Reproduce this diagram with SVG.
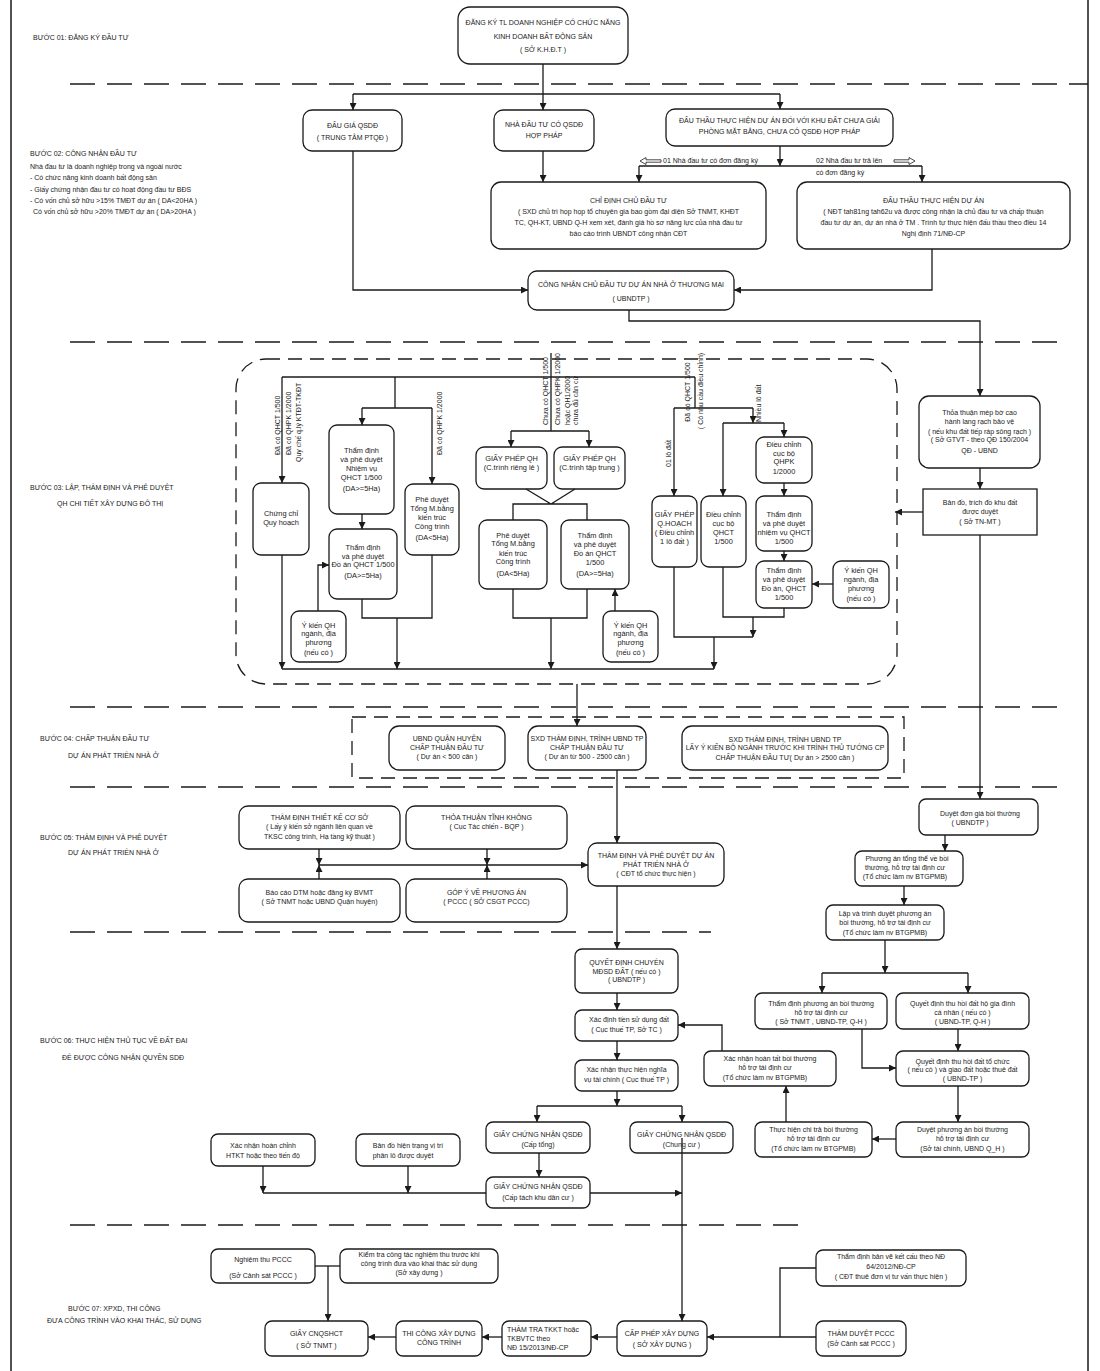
<svg xmlns="http://www.w3.org/2000/svg" width="1100" height="1371" viewBox="0 0 1100 1371">
<defs>
<marker id="ar" viewBox="0 0 10 10" refX="10" refY="5" markerWidth="7" markerHeight="7" markerUnits="userSpaceOnUse" orient="auto"><path d="M0,0L10,5L0,10z" fill="#1a1a1a"/></marker>
</defs>
<style>
text{font-family:"Liberation Sans",Arial,sans-serif;font-size:7px;fill:#1a1a1a}
.c{text-anchor:middle}
.m{font-size:7.4px}
rect.b{fill:#fff;stroke:#1a1a1a;stroke-width:1.3}
.k path{fill:none;stroke:#1a1a1a;stroke-width:1.3}
.k path.a{marker-end:url(#ar)}
.d{stroke:#1a1a1a;stroke-width:1.6;stroke-dasharray:25 12;fill:none}
.dr{stroke:#1a1a1a;stroke-width:1.3;stroke-dasharray:14 8;fill:none}
.h{fill:#fff;stroke:#1a1a1a;stroke-width:0.8}
</style>
<rect width="1100" height="1371" fill="#fff"/>
<g id="frame">
<path d="M11,0V1371M1088,0V1371" stroke="#1a1a1a" stroke-width="1.5" fill="none"/>
<path class="d" d="M70,84H1088"/>
<path class="d" d="M70,342H1064"/>
<path class="d" d="M70,707H1064"/>
<path class="d" d="M70,787H1064"/>
<path class="d" d="M70,932H711"/>
<path class="d" d="M70,1225H810"/>
<rect class="dr" x="236" y="359" width="661" height="325" rx="30"/>
<rect class="dr" x="352" y="717" width="552" height="61"/>
</g>
<g id="labels">
<text x="33" y="40">BƯỚC 01: ĐĂNG KÝ ĐẦU TƯ</text>
<text x="30" y="155.5">BƯỚC 02: CÔNG NHẬN ĐẦU TƯ</text>
<text x="30" y="168.5">Nhà đầu tư là doanh nghiệp trong và ngoài nước</text>
<text x="30" y="179.5">- Có chức năng kinh doanh bất động sản</text>
<text x="30" y="191.5">- Giấy chứng nhận đầu tư có hoạt động đầu tư BĐS</text>
<text x="30" y="202.5">- Có vốn chủ sở hữu &gt;15% TMĐT dự án ( DA&lt;20HA )</text>
<text x="33" y="213.5">Có vốn chủ sở hữu &gt;20% TMĐT dự án ( DA&gt;20HA )</text>
<text x="30" y="489.5">BƯỚC 03: LẬP, THẨM ĐỊNH VÀ PHÊ DUYỆT</text>
<text x="57" y="505.5">QH CHI TIẾT XÂY DỰNG ĐÔ THỊ</text>
<text x="40" y="740.5">BƯỚC 04: CHẤP THUẬN ĐẦU TƯ</text>
<text x="68" y="757.5">DỰ ÁN PHÁT TRIỂN NHÀ Ở</text>
<text x="40" y="839.5">BƯỚC 05: THẨM ĐỊNH VÀ PHÊ DUYỆT</text>
<text x="68" y="854.5">DỰ ÁN PHÁT TRIỂN NHÀ Ở</text>
<text x="40" y="1042.5">BƯỚC 06: THỰC HIỆN THỦ TỤC VỀ ĐẤT ĐAI</text>
<text x="62" y="1059.5">ĐỂ ĐƯỢC CÔNG NHẬN QUYỀN SDĐ</text>
<text x="68" y="1310.5">BƯỚC 07: XPXD, THI CÔNG</text>
<text x="47" y="1322.5">ĐƯA CÔNG TRÌNH VÀO KHAI THÁC, SỬ DỤNG</text>
</g>

<g id="n-dangky"><rect class="b" x="458" y="7" width="170" height="57" rx="12"/>
<text class="c" x="543" y="25">ĐĂNG KÝ TL DOANH NGHIỆP CÓ CHỨC NĂNG</text><text class="c" x="543" y="38.5">KINH DOANH BẤT ĐỘNG SẢN</text><text class="c" x="543" y="52">( SỞ K.H.Đ.T )</text></g>
<g id="n-daugia"><rect class="b" x="303" y="110" width="99" height="41" rx="9"/>
<text class="c" x="352.5" y="127.5">ĐẤU GIÁ QSDĐ</text><text class="c" x="352.5" y="139.5">( TRUNG TÂM PTQĐ )</text></g>
<g id="n-nhadautu"><rect class="b" x="494" y="110" width="100" height="41" rx="9"/>
<text class="c" x="544" y="126.5">NHÀ ĐẦU TƯ CÓ QSDĐ</text><text class="c" x="544" y="137.5">HỢP PHÁP</text></g>
<g id="n-dauthau"><rect class="b" x="666" y="109" width="227" height="37" rx="9"/>
<text class="c" x="779.5" y="122.5">ĐẤU THẦU THỰC HIỆN DỰ ÁN ĐỐI VỚI KHU ĐẤT CHƯA GIẢI</text><text class="c" x="779.5" y="133.5">PHÒNG MẶT BẰNG, CHƯA CÓ QSDĐ HỢP PHÁP</text></g>
<g id="n-chidinh"><rect class="b" x="491" y="182" width="275" height="67" rx="10"/>
<text class="c" x="628.5" y="203">CHỈ ĐỊNH CHỦ ĐẦU TƯ</text><text class="c" x="628.5" y="214">( SXD chủ trì họp họp tổ chuyên gia bao gồm đại diện Sở TNMT, KHĐT</text><text class="c" x="628.5" y="225">TC, QH-KT, UBND Q-H xem xét, đánh giá hồ sơ năng lực của nhà đầu tư</text><text class="c" x="628.5" y="236">báo cáo trình UBNDT công nhận  CĐT</text></g>
<g id="n-dauthauth"><rect class="b" x="797" y="182" width="273" height="67" rx="10"/>
<text class="c" x="933.5" y="203">ĐẤU THẦU THỰC HIỆN DỰ ÁN</text><text class="c" x="933.5" y="214">( NĐT tah81ng tah62u và được công nhận là chủ đầu tư và chấp thuận</text><text class="c" x="933.5" y="225">đầu tư dự án, dự án nhà ở TM . Trình tự thực hiện đấu thầu theo điều 14</text><text class="c" x="933.5" y="236">Nghị định 71/NĐ-CP</text></g>
<g id="n-congnhan"><rect class="b" x="528" y="271" width="206" height="39" rx="9"/>
<text class="c" x="631" y="287">CÔNG NHẬN CHỦ ĐẦU TƯ DỰ ÁN NHÀ Ở THƯƠNG MẠI</text><text class="c" x="631" y="301">( UBNDTP )</text></g>

<g id="n-chungchi"><rect class="b" x="253" y="483" width="56" height="72" rx="8"/>
<text class="c m" x="281" y="515.5">Chứng chỉ</text><text class="c m" x="281" y="525">Quy hoạch</text></g>
<g id="n-tdnv1"><rect class="b" x="329" y="425" width="65" height="89" rx="8"/>
<text class="c m" x="361.5" y="452.5">Thẩm định</text><text class="c m" x="361.5" y="461.5">và phê duyệt</text><text class="c m" x="361.5" y="470.5">Nhiệm vụ</text><text class="c m" x="361.5" y="479.5">QHCT 1/500</text><text class="c m" x="361.5" y="490.5">(DA&gt;=5Ha)</text></g>
<g id="n-tdda1"><rect class="b" x="329" y="529" width="68" height="70" rx="8"/>
<text class="c m" x="363" y="549.5">Thẩm định</text><text class="c m" x="363" y="558.5">và phê duyệt</text><text class="c m" x="363" y="567">Đồ án QHCT 1/500</text><text class="c m" x="363" y="578">(DA&gt;=5Ha)</text></g>
<g id="n-ykien1"><rect class="b" x="291" y="611" width="55" height="51" rx="8"/>
<text class="c m" x="318.5" y="627.5">Ý kiến QH</text><text class="c m" x="318.5" y="636">ngành, địa</text><text class="c m" x="318.5" y="644.5">phương</text><text class="c m" x="318.5" y="654.5">(nếu có )</text></g>
<g id="n-pdtmb1"><rect class="b" x="405" y="484" width="54" height="71" rx="8"/>
<text class="c m" x="432" y="501.5">Phê duyệt</text><text class="c m" x="432" y="510.5">Tổng M.bằng</text><text class="c m" x="432" y="519.5">kiến trúc</text><text class="c m" x="432" y="528.5">Công trình</text><text class="c m" x="432" y="539.5">(DA&lt;5Ha)</text></g>
<g id="n-gpqh1"><rect class="b" x="476" y="447" width="71" height="42" rx="8"/>
<text class="c m" x="511.5" y="460.5">GIẤY PHÉP QH</text><text class="c m" x="511.5" y="469.5">(C.trình riêng lẻ )</text></g>
<g id="n-gpqh2"><rect class="b" x="554" y="447" width="71" height="42" rx="8"/>
<text class="c m" x="589.5" y="460.5">GIẤY PHÉP QH</text><text class="c m" x="589.5" y="469.5">(C.trình tập trung )</text></g>
<g id="n-pdtmb2"><rect class="b" x="479" y="520" width="68" height="69" rx="8"/>
<text class="c m" x="513" y="537.5">Phê duyệt</text><text class="c m" x="513" y="545.5">Tổng M.bằng</text><text class="c m" x="513" y="555.5">kiến trúc</text><text class="c m" x="513" y="563.5">Công trình</text><text class="c m" x="513" y="575.5">(DA&lt;5Ha)</text></g>
<g id="n-tdda2"><rect class="b" x="561" y="520" width="68" height="69" rx="8"/>
<text class="c m" x="595" y="537.5">Thẩm định</text><text class="c m" x="595" y="546.5">và phê duyệt</text><text class="c m" x="595" y="555.5">Đồ án  QHCT</text><text class="c m" x="595" y="564.5">1/500</text><text class="c m" x="595" y="575.5">(DA&gt;=5Ha)</text></g>
<g id="n-ykien2"><rect class="b" x="603" y="611" width="55" height="51" rx="8"/>
<text class="c m" x="630.5" y="627.5">Ý kiến QH</text><text class="c m" x="630.5" y="636">ngành, địa</text><text class="c m" x="630.5" y="644.5">phương</text><text class="c m" x="630.5" y="654.5">(nếu có )</text></g>
<g id="n-gpqhdc"><rect class="b" x="652" y="496" width="45" height="71" rx="8"/>
<text class="c m" x="674.5" y="516.5">GIẤY PHÉP</text><text class="c m" x="674.5" y="525.5">Q.HOẠCH</text><text class="c m" x="674.5" y="534.5">( Điều chỉnh</text><text class="c m" x="674.5" y="543.5">1 lô đất )</text></g>
<g id="n-dcqhct"><rect class="b" x="701" y="496" width="45" height="71" rx="8"/>
<text class="c m" x="723.5" y="516.5">Điều chỉnh</text><text class="c m" x="723.5" y="525.5">cục bộ</text><text class="c m" x="723.5" y="534.5">QHCT</text><text class="c m" x="723.5" y="543.5">1/500</text></g>
<g id="n-dcqhpk"><rect class="b" x="756" y="437" width="56" height="46" rx="8"/>
<text class="c m" x="784" y="446.5">Điều chỉnh</text><text class="c m" x="784" y="455.5">cục bộ</text><text class="c m" x="784" y="463.5">QHPK</text><text class="c m" x="784" y="473.5">1/2000</text></g>
<g id="n-tdnv3"><rect class="b" x="756" y="496" width="56" height="55" rx="8"/>
<text class="c m" x="784" y="516.5">Thẩm định</text><text class="c m" x="784" y="525.5">và phê duyệt</text><text class="c m" x="784" y="534.5">nhiệm vụ QHCT</text><text class="c m" x="784" y="543.5">1/500</text></g>
<g id="n-tdda3"><rect class="b" x="756" y="561" width="56" height="47" rx="8"/>
<text class="c m" x="784" y="572.5">Thẩm định</text><text class="c m" x="784" y="581.5">và phê duyệt</text><text class="c m" x="784" y="590.5">Đồ án,  QHCT</text><text class="c m" x="784" y="599.5">1/500</text></g>
<g id="n-ykien3"><rect class="b" x="833" y="561" width="56" height="47" rx="8"/>
<text class="c m" x="861" y="572.5">Ý kiến QH</text><text class="c m" x="861" y="581.5">ngành, địa</text><text class="c m" x="861" y="590.5">phương</text><text class="c m" x="861" y="600.5">(nếu có )</text></g>
<g id="n-thoathuan"><rect class="b" x="919" y="396" width="121" height="72" rx="10"/>
<text class="c" x="979.5" y="414.5">Thỏa thuận mép bờ cao</text><text class="c" x="979.5" y="423.5">hành lang rạch bảo vệ</text><text class="c" x="979.5" y="433.5">( nếu khu đất tiếp ráp sông rạch )</text><text class="c" x="979.5" y="441.5">( Sở GTVT - theo QĐ 150/2004</text><text class="c" x="979.5" y="452.5">QĐ - UBND</text></g>
<g id="n-bando"><rect class="b" x="923" y="489" width="114" height="46"/>
<text class="c" x="980" y="504.5">Bản đồ, trích đồ khu đất</text><text class="c" x="980" y="513.5">được duyệt</text><text class="c" x="980" y="523.5">( Sở TN-MT )</text></g>

<g id="n-ubndqh"><rect class="b" x="389" y="726" width="116" height="44" rx="10"/>
<text class="c" x="447" y="740.5">UBND QUẬN HUYỆN</text><text class="c" x="447" y="749.5">CHẤP THUẬN ĐẦU TƯ</text><text class="c" x="447" y="758.5">( Dự án &lt; 500 căn )</text></g>
<g id="n-sxd1"><rect class="b" x="528" y="726" width="118" height="44" rx="10"/>
<text class="c" x="587" y="740.5">SXD THẨM ĐỊNH, TRÌNH UBND TP</text><text class="c" x="587" y="749.5">CHẤP THUẬN ĐẦU TƯ</text><text class="c" x="587" y="758.5">( Dự án từ 500 - 2500 căn )</text></g>
<g id="n-sxd2"><rect class="b" x="682" y="726" width="206" height="44" rx="10"/>
<text class="c" x="785" y="741.5">SXD THẨM ĐỊNH, TRÌNH UBND TP</text><text class="c" x="785" y="749.5">LẤY Ý KIẾN BỘ NGÀNH TRƯỚC KHI TRÌNH THỦ TƯỚNG CP</text><text class="c" x="785" y="759.5">CHẤP THUẬN ĐẦU TƯ( Dự án &gt; 2500 căn )</text></g>

<g id="n-tdtkcs"><rect class="b" x="239" y="806" width="161" height="43" rx="9"/>
<text class="c" x="319.5" y="819.5">THẨM ĐỊNH THIẾT KẾ CƠ SỞ</text><text class="c" x="319.5" y="828.5">( Lấy ý kiến sở ngành liên quan về</text><text class="c" x="319.5" y="838.5">TKSC công trình, Hạ tầng kỹ thuật )</text></g>
<g id="n-tinhkhong"><rect class="b" x="406" y="806" width="161" height="43" rx="9"/>
<text class="c" x="486.5" y="819.5">THỎA THUẬN TĨNH KHÔNG</text><text class="c" x="486.5" y="828.5">( Cục Tác chiến - BQP )</text></g>
<g id="n-dtm"><rect class="b" x="239" y="879" width="161" height="43" rx="9"/>
<text class="c" x="319.5" y="894.5">Báo cáo DTM hoặc đăng ký BVMT</text><text class="c" x="319.5" y="903.5">( Sở TNMT hoặc UBND Quận huyện)</text></g>
<g id="n-gopy"><rect class="b" x="406" y="879" width="161" height="43" rx="9"/>
<text class="c" x="486.5" y="894.5">GÓP Ý VỀ PHƯƠNG ÁN</text><text class="c" x="486.5" y="903.5">( PCCC ( SỞ CSGT PCCC)</text></g>
<g id="n-tdpdda"><rect class="b" x="588" y="843" width="136" height="43" rx="9"/>
<text class="c" x="656" y="857.5">THẨM ĐỊNH VÀ PHÊ DUYỆT DỰ ÁN</text><text class="c" x="656" y="866.5">PHÁT TRIỂN NHÀ Ở</text><text class="c" x="656" y="875.5">( CĐT tổ chức thực hiện )</text></g>
<g id="n-dongia"><rect class="b" x="919" y="799" width="119" height="36" rx="7"/>
<text class="c" x="980" y="815.5">Duyệt đơn giá bồi thường</text><text class="c" x="970" y="824.5">( UBNDTP )</text></g>
<g id="n-pattongthe"><rect class="b" x="855" y="851" width="108" height="35" rx="7"/>
<text class="c" x="907" y="860.5">Phương án tổng thể về bồi</text><text class="c" x="905" y="869.5">thường, hỗ trợ tái định cư</text><text class="c" x="905" y="878.5">(Tổ chức làm nv BTGPMB)</text></g>
<g id="n-lap"><rect class="b" x="826" y="905" width="118" height="35" rx="7"/>
<text class="c" x="885" y="915.5">Lập và trình duyệt phương án</text><text class="c" x="885" y="925">bồi thường, hỗ trợ tái định cư</text><text class="c" x="885" y="934.5">(Tổ chức làm nv BTGPMB)</text></g>

<g id="n-qdchuyen"><rect class="b" x="575" y="949" width="103" height="44" rx="7"/>
<text class="c" x="626.5" y="964.5">QUYẾT ĐỊNH CHUYỂN</text><text class="c" x="626.5" y="973.5">MĐSD ĐẤT ( nếu có )</text><text class="c" x="626.5" y="981.5">( UBNDTP )</text></g>
<g id="n-tiensd"><rect class="b" x="575" y="1010" width="103" height="31" rx="7"/>
<text class="c" x="629" y="1021.5">Xác định tiền sử dụng đất</text><text class="c" x="626.5" y="1031.5">( Cục thuế TP, Sở TC )</text></g>
<g id="n-nghiavu"><rect class="b" x="575" y="1060" width="103" height="31" rx="7"/>
<text class="c" x="626.5" y="1071.5">Xác nhận thực hiện nghĩa</text><text class="c" x="626.5" y="1081.5">vụ tài chính ( Cục thuế TP )</text></g>
<g id="n-gcntong"><rect class="b" x="486" y="1122" width="104" height="31" rx="7"/>
<text class="c" x="538" y="1136.5">GIẤY CHỨNG NHẬN QSDĐ</text><text class="c" x="538" y="1146.5">(Cấp tổng)</text></g>
<g id="n-gcncc"><rect class="b" x="630" y="1122" width="103" height="31" rx="7"/>
<text class="c" x="681.5" y="1136.5">GIẤY CHỨNG NHẬN QSDĐ</text><text class="c" x="681.5" y="1146.5">(Chung cư )</text></g>
<g id="n-gcntach"><rect class="b" x="486" y="1177" width="104" height="31" rx="7"/>
<text class="c" x="538" y="1188.5">GIẤY CHỨNG NHẬN QSDĐ</text><text class="c" x="538" y="1199.5">(Cấp tách khu dân cư )</text></g>
<g id="n-htkt"><rect class="b" x="211" y="1134" width="104" height="32" rx="7"/>
<text class="c" x="263" y="1147.5">Xác nhận hoàn chỉnh</text><text class="c" x="263" y="1157.5">HTKT hoặc theo tiến độ</text></g>
<g id="n-hientrang"><rect class="b" x="356" y="1134" width="104" height="32" rx="7"/>
<text class="c" x="408" y="1147.5">Bản đồ hiện trạng vị trí</text><text class="c" x="403" y="1157.5">phân lô được duyệt</text></g>
<g id="n-tdpa"><rect class="b" x="755" y="993" width="132" height="36" rx="7"/>
<text class="c" x="821" y="1005.5">Thẩm định phương án bồi thường</text><text class="c" x="821" y="1014.5">hỗ trợ tái định cư</text><text class="c" x="821" y="1023.5">( Sở TNMT , UBND-TP, Q-H )</text></g>
<g id="n-qdho"><rect class="b" x="896" y="993" width="133" height="36" rx="7"/>
<text class="c" x="962.5" y="1005.5">Quyết định thu hồi đất hộ gia đình</text><text class="c" x="962.5" y="1014.5">cá nhân ( nếu có )</text><text class="c" x="962.5" y="1023.5">( UBND-TP, Q-H )</text></g>
<g id="n-qdtochuc"><rect class="b" x="896" y="1051" width="133" height="35" rx="7"/>
<text class="c" x="962.5" y="1063.5">Quyết định thu hồi đất tổ chức</text><text class="c" x="962.5" y="1071.5">( nếu có ) và giao đất hoặc thuê đất</text><text class="c" x="962.5" y="1080.5">( UBND-TP )</text></g>
<g id="n-duyetpa"><rect class="b" x="896" y="1122" width="133" height="35" rx="7"/>
<text class="c" x="962.5" y="1131.5">Duyệt phương án bồi thường</text><text class="c" x="962.5" y="1140.5">hỗ trợ tái định cư</text><text class="c" x="962.5" y="1150.5">(Sở tài chính, UBND Q_H )</text></g>
<g id="n-chitra"><rect class="b" x="755" y="1122" width="117" height="35" rx="7"/>
<text class="c" x="813.5" y="1131.5">Thực hiện chi trả bồi thường</text><text class="c" x="813.5" y="1140.5">hỗ trợ tái định cư</text><text class="c" x="813.5" y="1150.5">(Tổ chức làm nv BTGPMB)</text></g>
<g id="n-hoantat"><rect class="b" x="704" y="1051" width="132" height="35" rx="7"/>
<text class="c" x="770" y="1060.5">Xác nhận hoàn tất bồi thường</text><text class="c" x="765" y="1069.5">hỗ trợ tái định cư</text><text class="c" x="765" y="1079.5">(Tổ chức làm nv BTGPMB)</text></g>

<g id="n-nghiemthu"><rect class="b" x="211" y="1249" width="104" height="34" rx="7"/>
<text class="c" x="263" y="1261.5">Nghiệm thu PCCC</text><text class="c" x="263" y="1277.5">(Sở Cảnh sát PCCC )</text></g>
<g id="n-kiemtra"><rect class="b" x="340" y="1249" width="158" height="34" rx="7"/>
<text class="c" x="419" y="1256.5">Kiểm tra công tác nghiệm thu trước khi</text><text class="c" x="419" y="1265.5">công trình đưa vào khai thác sử dụng</text><text class="c" x="419" y="1274.5">(Sở xây dựng )</text></g>
<g id="n-cnqshct"><rect class="b" x="265" y="1321" width="103" height="35" rx="7"/>
<text class="c" x="316.5" y="1335.5">GIẤY CNQSHCT</text><text class="c" x="316.5" y="1347.5">( SỞ TNMT )</text></g>
<g id="n-thicong"><rect class="b" x="396" y="1321" width="86" height="35" rx="7"/>
<text class="c" x="439" y="1335.5">THI CÔNG XÂY DỰNG</text><text class="c" x="439" y="1344.5">CÔNG TRÌNH</text></g>
<g id="n-thamtra"><rect class="b" x="502" y="1321" width="89" height="35" rx="7"/>
<text x="507" y="1331.5">THẨM TRA TKKT hoặc</text><text x="507" y="1340.5">TKBVTC theo</text><text x="507" y="1349.5">NĐ 15/2013/NĐ-CP</text></g>
<g id="n-capphep"><rect class="b" x="617" y="1321" width="90" height="35" rx="7"/>
<text class="c" x="662" y="1335.5">CẤP PHÉP XÂY DỰNG</text><text class="c" x="662" y="1346.5">( SỞ XÂY DỰNG )</text></g>
<g id="n-ketcau"><rect class="b" x="816" y="1250" width="150" height="36" rx="7"/>
<text class="c" x="891" y="1258.5">Thẩm định bản vẽ kết cấu theo NĐ</text><text class="c" x="891" y="1268.5">64/2012/NĐ-CP</text><text class="c" x="891" y="1278.5">( CĐT thuê đơn vị tư vấn thực hiện )</text></g>
<g id="n-thamduyet"><rect class="b" x="816" y="1321" width="90" height="35" rx="7"/>
<text class="c" x="861" y="1335.5">THẨM DUYỆT PCCC</text><text class="c" x="861" y="1345.5">(Sở Cảnh sát PCCC )</text></g>

<g id="connectors" class="k">
<path class="a" d="M543,64V110"/>
<path d="M353,94H780"/>
<path class="a" d="M353,94V110"/>
<path class="a" d="M780,94V109"/>
<path class="a" d="M543,151V182"/>
<path class="a" d="M780,146V166"/>
<path d="M639,166H922"/>
<path class="a" d="M639,166V182"/>
<path class="a" d="M922,166V182"/>
<path class="a" d="M353,151V290H528"/>
<path class="a" d="M932,249V290H734"/>
<path class="a" d="M629,310V321H980V396"/>

<path d="M282,377H695"/>
<path class="a" d="M282,377V483"/>
<path d="M395,377V408M362,408H432"/>
<path class="a" d="M362,408V425"/>
<path class="a" d="M432,408V484"/>
<path class="a" d="M362,514V529"/>
<path class="a" d="M318,611V565H329"/>
<path d="M362,599V618H432V555"/>
<path class="a" d="M397,618V669"/>
<path class="a" d="M282,555V669"/>
<path d="M551,353V431M511,431H589"/>
<path class="a" d="M511,431V447"/>
<path class="a" d="M589,431V447"/>
<path d="M526,489L551,504L575,489M513,520V504H587V520"/>
<path d="M513,589V618H587V589"/>
<path class="a" d="M551,618V669"/>
<path class="a" d="M615,611V589"/>
<path d="M695,377V408M674,408H753"/>
<path class="a" d="M674,408V496"/>
<path class="a" d="M753,408V423"/>
<path d="M723,423H784"/>
<path class="a" d="M723,423V496"/>
<path class="a" d="M784,423V437"/>
<path class="a" d="M784,483V496"/>
<path class="a" d="M784,551V561"/>
<path class="a" d="M833,584H812"/>
<path d="M784,608V617H723V567"/>
<path class="a" d="M753,617V637"/>
<path d="M674,567V637H753"/>
<path class="a" d="M714,637V669"/>
<path d="M282,669H714"/>
<path class="a" d="M980,468V489"/>
<path class="a" d="M923,512H895"/>
<path class="a" d="M577,684V726"/>

<path class="a" d="M617,770V843"/>
<path class="a" d="M319,865H588"/>
<path class="a" d="M319,849V865"/>
<path class="a" d="M319,879V865"/>
<path class="a" d="M487,849V865"/>
<path class="a" d="M487,879V865"/>
<path class="a" d="M980,535V799"/>
<path class="a" d="M945,835V851"/>
<path class="a" d="M904,886V905"/>
<path class="a" d="M885,940V973"/>
<path d="M822,973H968"/>
<path class="a" d="M822,973V993"/>
<path class="a" d="M968,973V993"/>

<path class="a" d="M617,886V949"/>
<path class="a" d="M617,993V1010"/>
<path class="a" d="M617,1041V1060"/>
<path class="a" d="M617,1091V1106"/>
<path d="M537,1106H682"/>
<path class="a" d="M537,1106V1122"/>
<path class="a" d="M682,1106V1122"/>
<path class="a" d="M682,1138V1321"/>
<path class="a" d="M539,1153V1177"/>
<path d="M263,1193H486"/>
<path class="a" d="M263,1166V1193"/>
<path class="a" d="M408,1166V1193"/>
<path class="a" d="M590,1193H682"/>
<path class="a" d="M862,1029V1068H896"/>
<path class="a" d="M958,1029V1051"/>
<path class="a" d="M958,1086V1122"/>
<path class="a" d="M896,1139H872"/>
<path class="a" d="M786,1122V1086"/>
<path class="a" d="M722,1051V1025H678"/>

<path d="M315,1266H340"/>
<path class="a" d="M328,1266V1321"/>
<path class="a" d="M396,1337H368"/>
<path class="a" d="M502,1337H482"/>
<path class="a" d="M617,1337H591"/>
<path class="a" d="M816,1337H707"/>
<path d="M816,1268H780V1337"/>
</g>

<g id="edge-labels">
<path class="h" d="M640,161L646,157.5V159.8H661V162.2H646V164.5Z"/>
<text x="663" y="163">01 Nhà đầu tư có đơn đăng ký</text>
<text x="816" y="163">02 Nhà đầu tư trả lên</text>
<path class="h" d="M915,161L909,157.5V159.8H894V162.2H909V164.5Z"/>
<text x="816" y="175">có đơn đăng ký</text>
<text transform="translate(279.5,455) rotate(-90)">Đã có QHCT 1/500</text>
<text transform="translate(290.5,455) rotate(-90)">Đã có QHPK 1/2000</text>
<text transform="translate(300.5,462) rotate(-90)">Quy chế q.lý KTĐT-TKĐT</text>
<text transform="translate(441.5,455) rotate(-90)">Đã có QHPK 1/2000</text>
<text transform="translate(547.5,425) rotate(-90)">Chưa có QHCT 1/500</text>
<text transform="translate(559.5,425) rotate(-90)">Chưa có QHPK 1/2000</text>
<text transform="translate(569.5,425) rotate(-90)">hoặc QH1/2000</text>
<text transform="translate(577.5,425) rotate(-90)">chưa đủ căn cứ</text>
<text transform="translate(670.5,467) rotate(-90)">01 lô đất</text>
<text class="c" transform="translate(689.5,392) rotate(-90)">Đã có QHCT 1/500</text>
<text class="c" transform="translate(702.5,391) rotate(-90)">( Có nhu cầu điều chỉnh)</text>
<text transform="translate(760.5,422) rotate(-90)">Nhiều lô đất</text>
</g>
</svg>
